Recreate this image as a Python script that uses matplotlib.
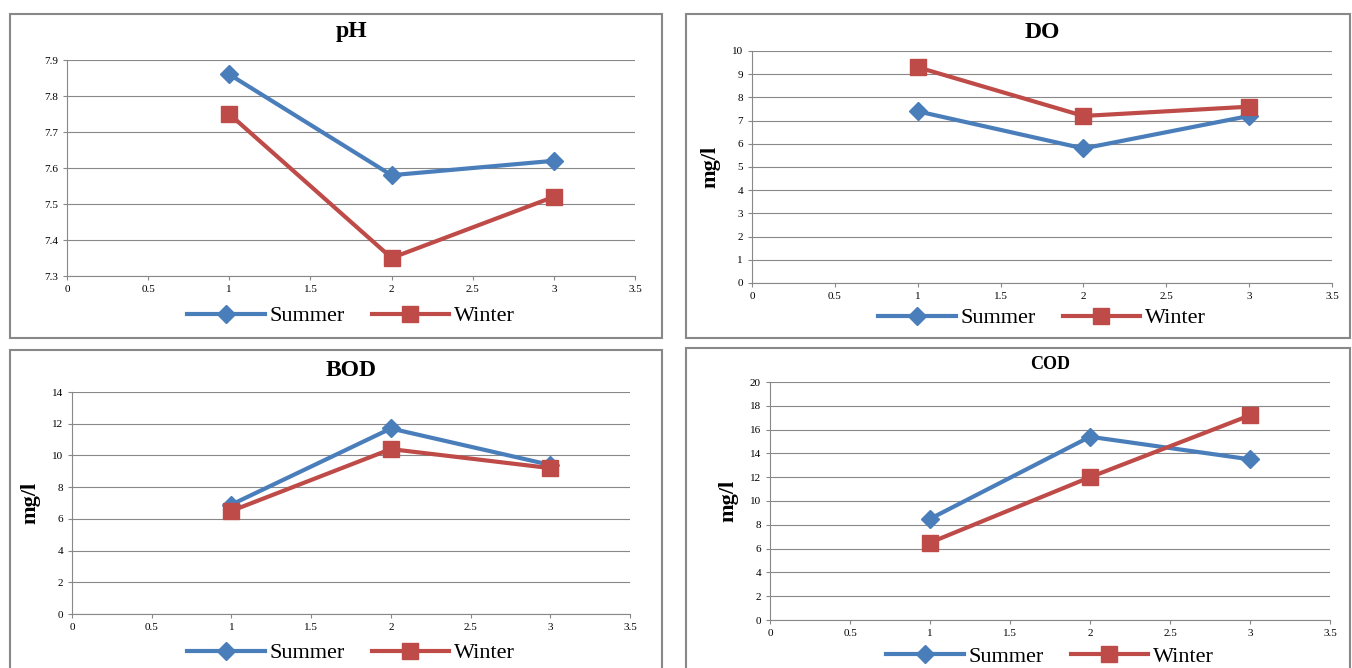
import matplotlib.pyplot as plt
from matplotlib.patches import Rectangle

plt.rcParams['font.family'] = ['Liberation Serif', 'DejaVu Serif']

x = [1, 2, 3]
ph_summer = [7.86, 7.58, 7.62]
ph_winter = [7.75, 7.35, 7.52]
do_summer = [7.4, 5.8, 7.2]
do_winter = [9.3, 7.2, 7.6]
bod_summer = [6.9, 11.7, 9.4]
bod_winter = [6.5, 10.4, 9.2]
cod_summer = [8.5, 15.4, 13.5]
cod_winter = [6.5, 12.0, 17.2]

W, H = 1352, 668
BLUE = '#4a7ebb'
RED = '#be4b48'

fig = plt.figure(figsize=(W / 100, H / 100), dpi=100)

def px_rect(x0, y0, x1, y1):
    return [x0 / W, 1 - y1 / H, (x1 - x0) / W, (y1 - y0) / H]

# panel borders
for (x0, y0, x1, y1) in [(10, 14, 662, 338), (686, 14, 1350, 338),
                         (10, 350, 662, 680), (686, 348, 1350, 680)]:
    fig.patches.append(Rectangle((x0 / W, 1 - y1 / H), (x1 - x0) / W, (y1 - y0) / H,
                                 transform=fig.transFigure, fill=False,
                                 edgecolor='#888888', linewidth=1.5))

panels = [
    ('pH', ph_summer, ph_winter, (67, 60, 635, 276), (7.3, 7.9), 0.1, None, '%.1f', 316, 17, 32),
    ('DO', do_summer, do_winter, (752, 51, 1332, 283), (0, 10), 1, 'mg/l', '%d', 318, 17, 32),
    ('BOD', bod_summer, bod_winter, (72, 392, 630, 614), (0, 14), 2, 'mg/l', '%d', 653, 17, 370),
    ('COD', cod_summer, cod_winter, (770, 382, 1330, 620), (0, 20), 2, 'mg/l', '%d', 657, 13, 365),
]

for title, s, w, box, ylim, step, ylabel, fmt, leg_y, tsize, title_y in panels:
    ax = fig.add_axes(px_rect(*box))
    ax.plot(x, s, color=BLUE, lw=3, marker='D', ms=9, label='Summer')
    ax.plot(x, w, color=RED, lw=3, marker='s', ms=11, label='Winter')
    ax.set_xlim(0, 3.5)
    ax.set_ylim(*ylim)
    ax.set_xticks([0, 0.5, 1, 1.5, 2, 2.5, 3, 3.5])
    ax.set_xticklabels(['0', '0.5', '1', '1.5', '2', '2.5', '3', '3.5'])
    n = round((ylim[1] - ylim[0]) / step)
    yt = [ylim[0] + i * step for i in range(n + 1)]
    ax.set_yticks(yt)
    ax.set_yticklabels([fmt % v for v in yt])
    ax.tick_params(labelsize=8, length=3, color='#888888')
    ax.grid(axis='y', color='#888888', lw=0.8)
    ax.set_axisbelow(True)
    for sp in ['top', 'right']:
        ax.spines[sp].set_visible(False)
    for sp in ['left', 'bottom']:
        ax.spines[sp].set_color('#888888')
    cx = (box[0] + box[2]) / 2 / W
    fig.text(cx, 1 - title_y / H, title, fontsize=tsize, fontweight='bold',
             ha='center', va='center')
    if ylabel:
        ax.set_ylabel(ylabel, fontsize=16, fontweight='bold', labelpad=8)
    ax.legend(loc='center', bbox_to_anchor=(cx, 1 - leg_y / H), bbox_transform=fig.transFigure,
              ncol=2, frameon=False, fontsize=16, handlelength=3.5, columnspacing=1.2,
              handletextpad=0.2, borderpad=0)

fig.savefig('out.png', dpi=100)
